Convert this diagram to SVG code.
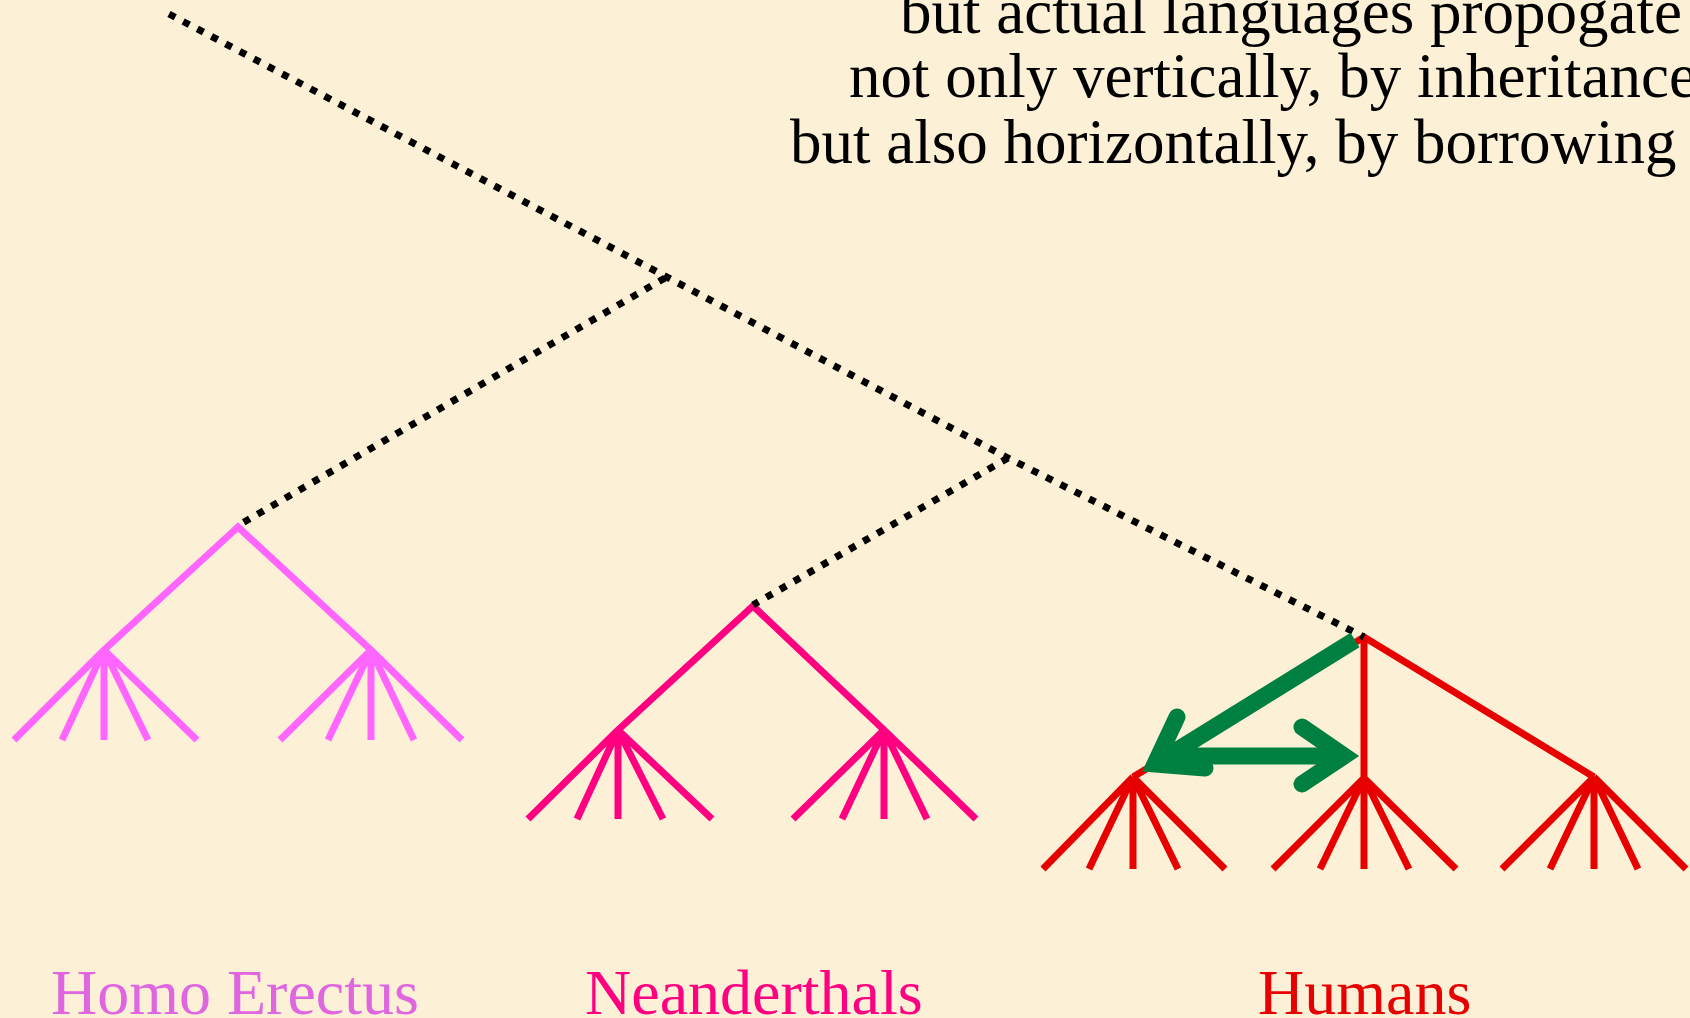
<svg xmlns="http://www.w3.org/2000/svg" width="1690" height="1018" viewBox="0 0 1690 1018">
  <style>
    .tree { fill: none; stroke-width: 7; stroke-linecap: butt; }
    .erectus { stroke: #FF66FF; }
    .neander { stroke: #FF0080; }
    .human { stroke: #E60000; }
    .dots { fill: none; stroke: #000; stroke-width: 7; stroke-dasharray: 7 9; }
    .green { fill: none; stroke: #008040; stroke-width: 17; }
    .head { stroke-linecap: round; stroke-linejoin: miter; stroke-miterlimit: 4; }
    .txt { font-family: "Liberation Serif", "Times New Roman", serif; }
  </style>
  <rect x="0" y="0" width="1690" height="1018" fill="#FCF0D7"/>

  <g id="caption" class="txt" font-size="63" fill="#000">
    <text x="900" y="33">but actual languages propogate</text>
    <text x="849" y="97">not only vertically, by inheritance</text>
    <text x="790" y="163">but also horizontally, by borrowing</text>
  </g>

  <g id="homo-erectus">
    <path class="tree erectus" d="M104,650 L238,527 L371,650
      M104,650 L14,740 M104,650 L62,740 M104,650 L104,740 M104,650 L148,740 M104,650 L197,740
      M371,650 L280,740 M371,650 L328,740 M371,650 L371,740 M371,650 L414,740 M371,650 L462,740"/>
    <text class="txt" x="51" y="1014" font-size="64" fill="#E066E0">Homo Erectus</text>
  </g>

  <g id="neanderthals">
    <path class="tree neander" d="M618,730 L753,606 L884,730
      M618,730 L528,819 M618,730 L577,819 M618,730 L618,819 M618,730 L663,819 M618,730 L712,819
      M884,730 L793,819 M884,730 L842,819 M884,730 L884,819 M884,730 L927,819 M884,730 L976,819"/>
    <text class="txt" x="585" y="1014" font-size="64" fill="#FF0080">Neanderthals</text>
  </g>

  <g id="humans">
    <path class="tree human" d="M1133,777 L1364,637 L1594,777 M1364,637 L1364,778
      M1133,777 L1043,869 M1133,777 L1089,869 M1133,777 L1133,869 M1133,777 L1178,869 M1133,777 L1225,869
      M1364,778 L1273,869 M1364,778 L1320,869 M1364,778 L1364,869 M1364,778 L1409,869 M1364,778 L1456,869
      M1594,777 L1502,869 M1594,777 L1550,869 M1594,777 L1594,869 M1594,777 L1638,869 M1594,777 L1686,869"/>
    <text class="txt" x="1258" y="1014" font-size="64" fill="#E60000">Humans</text>
  </g>

  <g id="connectors">
    <polyline class="dots" points="169,14 665,276 1008,458 1364,637"/>
    <line class="dots" x1="665" y1="278" x2="239" y2="525"/>
    <line class="dots" x1="1008" y1="458" x2="753" y2="605"/>

    <line class="green" x1="1355" y1="640" x2="1155" y2="764"/>
    <polyline class="green head" points="1177,717 1155,764 1205,768"/>

    <line class="green" x1="1165" y1="756" x2="1344" y2="756"/>
    <polyline class="green head" points="1302,727 1344,756 1302,784"/>
  </g>
</svg>
